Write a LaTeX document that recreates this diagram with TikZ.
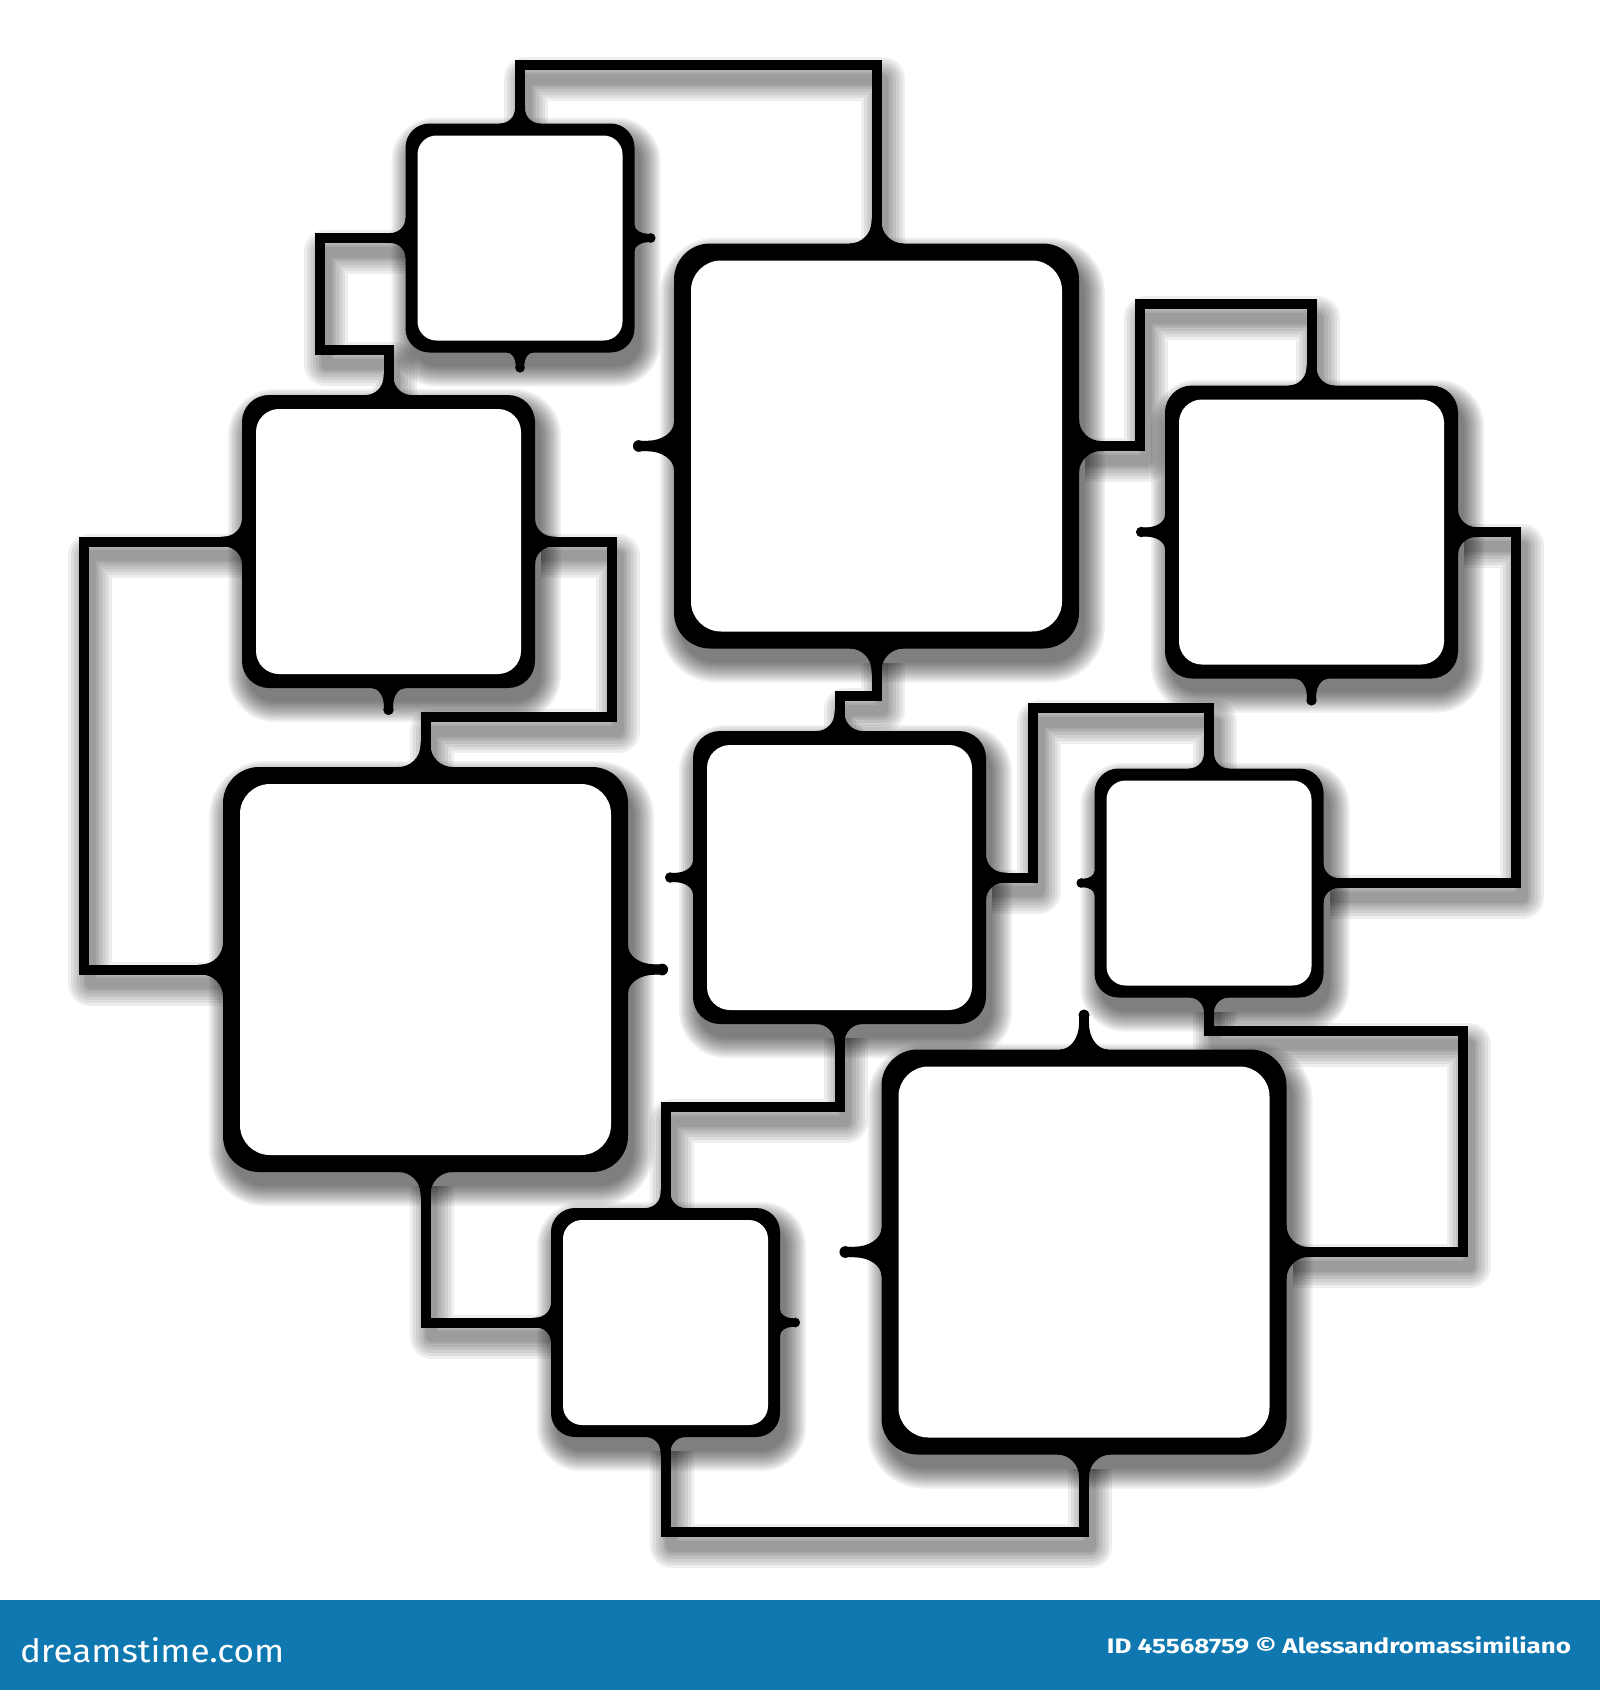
\documentclass[tikz,border=0pt]{standalone}
\usepackage{fontspec}
\setmainfont{Fira Sans}
\usetikzlibrary{calc}
\definecolor{barblue}{RGB}{16,120,176}
\tikzset{
  slot/.style={draw=none, fill=none, inner sep=0pt, outer sep=0pt, minimum width=#1pt, minimum height=#1pt},
  connshadow/.style={draw=black, line join=round, opacity=0.065, line width=#1pt, transform canvas={shift={(6,14)}}},
  conn/.style={draw=black, line width=10pt, line join=miter,
    preaction={connshadow=44}, preaction={connshadow=38}, preaction={connshadow=32}, preaction={connshadow=26},
    preaction={connshadow=20}, preaction={connshadow=15}, preaction={connshadow=11}},
  label/.style={text=white, inner sep=0pt, outer sep=0pt},
}
% panel: name, frame width, outer radius, inner radius
\newcommand\drawpanel[4]{%
  \foreach \e in {0,2,...,20}{%
    \pgfmathsetmacro\rr{#3+\e}%
    \fill[black, opacity=0.06, rounded corners=\rr pt] ($(#1.north west)+(6-\e,14-\e)$) rectangle ($(#1.south east)+(6+\e,14+\e)$);
  }%
  \fill[black, rounded corners=#3pt] (#1.north west) rectangle (#1.south east);
  \fill[white, rounded corners=#4pt] ($(#1.north west)+(#2,#2)$) rectangle ($(#1.south east)-(#2,#2)$);
}
% nub: anchor, angle, length, base half width, tip radius, style
\newcommand\mynub[6]{%
  \begin{scope}[shift={(#1)}, rotate=#2]
    \pgfmathsetmacro\na{0.65*#3}%
    \pgfmathsetmacro\nt{#3-#5}%
    \pgfmathsetmacro\nn{#5-0.6}%
    \pgfmathsetmacro\nc{#4-0.55*(#4-\nn)}%
    \fill[#6] (-2,-#4) -- (0,-#4) .. controls (0,-\nc) and ({0.45*\na},-\nn) .. (\na,-\nn) -- (\nt,-\nn)
      -- (\nt,\nn) -- (\na,\nn) .. controls ({0.45*\na},\nn) and (0,\nc) .. (0,#4) -- (-2,#4) -- cycle
      (\nt,0) circle[radius=#5];
  \end{scope}%
}
% joint of a connector with a panel: anchor, angle, fillet radius
\newcommand\myjoint[3]{%
  \begin{scope}[shift={(#1)}, rotate=#2]
    \pgfmathsetmacro\jr{#3}%
    \fill (-2,{-5-\jr}) -- (0,{-5-\jr}) .. controls (0,{-5-0.45*\jr}) and ({0.45*\jr},-5) .. (\jr,-5) -- ({\jr+3},-5)
      -- ({\jr+3},5) -- (\jr,5) .. controls ({0.45*\jr},5) and (0,{5+0.45*\jr}) .. (0,{5+\jr}) -- (-2,{5+\jr}) -- cycle;
  \end{scope}%
}
\newcommand\allnubs[1]{%
  \mynub{A.east}{0}{21}{13}{4.8}{#1}
  \mynub{A.south}{270}{20}{13}{4.8}{#1}
  \mynub{D.south}{270}{27}{17}{5.2}{#1}
  \mynub{B.west}{180}{41}{24}{5.8}{#1}
  \mynub{C.west}{180}{29}{17}{5.2}{#1}
  \mynub{C.south}{270}{27}{17}{5.2}{#1}
  \mynub{F.west}{180}{28}{17}{5.2}{#1}
  \mynub{G.west}{180}{18}{12}{4.8}{#1}
  \mynub{E.east}{0}{40}{24}{5.8}{#1}
  \mynub{H.north}{90}{40}{24}{5.5}{#1}
  \mynub{H.west}{180}{42}{24}{5.8}{#1}
  \mynub{I.east}{0}{20}{13}{4.8}{#1}
}
\begin{document}
\begin{tikzpicture}[x=1pt, y=-1pt]
\useasboundingbox (0,0) rectangle (1600,1690);
\fill[white] (0,0) rectangle (1600,1690);
\fill[barblue] (0,1600) rectangle (1600,1690);
\node[label, anchor=base west] (logo) at (20,1662) {\resizebox{264pt}{25pt}{dreamstime.com}};
\node[label, anchor=base east] (credit) at (1571,1653) {\resizebox{464pt}{17pt}{\bfseries ID 45568759 © Alessandromassimiliano}};

% panels (positions)
\node[slot=229] (A) at (520,238) {};
\node[slot=405] (B) at (876.5,446) {};
\node[slot=293] (C) at (1311.5,532) {};
\node[slot=293] (D) at (388.5,541.5) {};
\node[slot=405] (E) at (425.5,969.5) {};
\node[slot=293] (F) at (839.5,877.5) {};
\node[slot=229] (G) at (1209,883) {};
\node[slot=405] (H) at (1084,1252) {};
\node[slot=229] (I) at (665.5,1322.5) {};

% connectors
\draw[conn] (A.north) -- ++(0,-58.5) -| (B.north);
\draw[conn] (A.west) -| (320,350) -| (D.north);
\draw[conn] (D.west) -| (84,969.5) -- (E.west);
\draw[conn] (D.east) -| (612,717) -| (E.north);
\draw[conn] (B.east) -| (1140,304) -| (C.north);
\draw[conn] (B.south) -- ++(0,47.5) -| (F.north);
\draw[conn] (C.east) -| (1516,883) -- (G.east);
\draw[conn] (F.east) -| (1033,708) -| (G.north);
\draw[conn] (E.south) |- (I.west);
\draw[conn] (F.south) -- ++(0,83) -| (I.north);
\draw[conn] (G.south) -- ++(0,33) -| (1463,1252) -- (H.east);
\draw[conn] (I.south) -- ++(0,95) -| (H.south);

% nub shadows
\begin{scope}[shift={(6,14)}]
\allnubs{black, opacity=0.2}
\end{scope}
\begin{scope}[shift={(7,17)}]
\allnubs{black, opacity=0.1}
\end{scope}

% panel frames
\drawpanel{A}{12}{24}{19}
\drawpanel{B}{17}{36}{30}
\drawpanel{C}{14}{27}{23}
\drawpanel{D}{14}{27}{23}
\drawpanel{E}{17}{36}{30}
\drawpanel{F}{14}{27}{23}
\drawpanel{G}{12}{24}{19}
\drawpanel{H}{17}{36}{30}
\drawpanel{I}{12}{24}{19}

% joints
\myjoint{A.north}{90}{15}  \myjoint{B.north}{90}{22}
\myjoint{A.west}{180}{15}  \myjoint{D.north}{90}{18}
\myjoint{D.west}{180}{18}  \myjoint{E.west}{180}{22}
\myjoint{D.east}{0}{18}    \myjoint{E.north}{90}{22}
\myjoint{B.east}{0}{22}    \myjoint{C.north}{90}{18}
\myjoint{B.south}{270}{22} \myjoint{F.north}{90}{18}
\myjoint{C.east}{0}{18}    \myjoint{G.east}{0}{15}
\myjoint{F.east}{0}{18}    \myjoint{G.north}{90}{15}
\myjoint{E.south}{270}{22} \myjoint{I.west}{180}{15}
\myjoint{F.south}{270}{18} \myjoint{I.north}{90}{15}
\myjoint{G.south}{270}{15} \myjoint{H.east}{0}{22}
\myjoint{I.south}{270}{15} \myjoint{H.south}{270}{22}

% nubs
\allnubs{black}
\end{tikzpicture}
\end{document}
